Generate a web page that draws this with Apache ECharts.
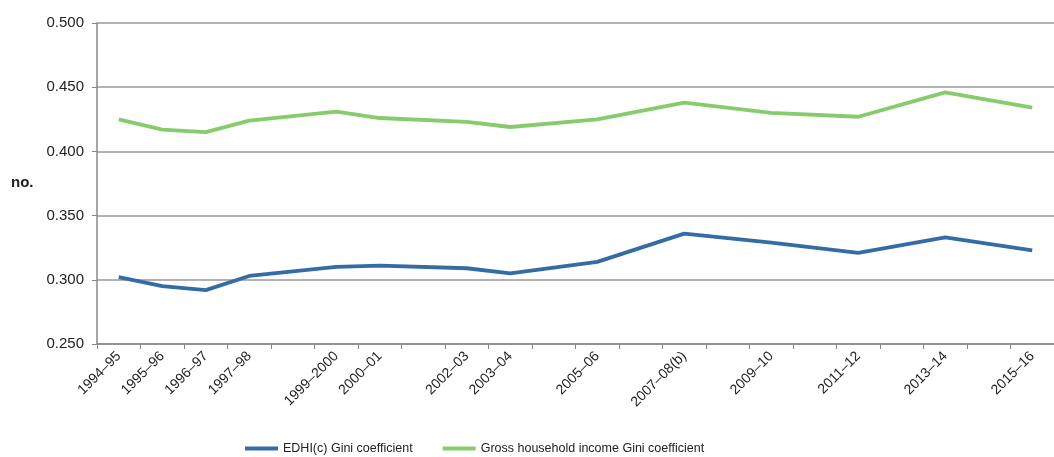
<!DOCTYPE html>
<html>
<head>
<meta charset="utf-8">
<script src="https://cdn.jsdelivr.net/npm/echarts@6/dist/echarts.min.js"></script>
<style>
  html, body { margin: 0; padding: 0; background: #fff; }
  #chart { width: 1054px; height: 457px; }
</style>
</head>
<body>
<div id="chart"></div>
<script>
// one category per financial year, survey years only carry values
const years = [
  '1994–95', '1995–96', '1996–97', '1997–98', '1998–99', '1999–2000',
  '2000–01', '2001–02', '2002–03', '2003–04', '2004–05', '2005–06',
  '2006–07', '2007–08(b)', '2008–09', '2009–10', '2010–11', '2011–12',
  '2012–13', '2013–14', '2014–15', '2015–16'
]
const edhiGini = [
  0.302, 0.295, 0.292, 0.303, null, 0.310,
  0.311, null, 0.309, 0.305, null, 0.314,
  null, 0.336, null, 0.329, null, 0.321,
  null, 0.333, null, 0.323
]
const grossGini = [
  0.425, 0.417, 0.415, 0.424, null, 0.431,
  0.426, null, 0.423, 0.419, null, 0.425,
  null, 0.438, null, 0.430, null, 0.427,
  null, 0.446, null, 0.434
]
const yTicks = { min: 0.25, max: 0.5, interval: 0.05 }

const chart = echarts.init(document.getElementById('chart'))
const font = 'Liberation Sans, Arial, sans-serif'

chart.setOption({
  animation: false,
  textStyle: { fontFamily: font },
  grid: { left: 97, right: -9, top: 23, bottom: 113 },
  legend: {
    bottom: -3,
    left: 240,
    itemWidth: 33,
    itemHeight: 4,
    itemGap: 30,
    icon: 'rect',
    textStyle: { fontSize: 12.5, color: '#222', fontFamily: font },
    data: ['EDHI(c) Gini coefficient', 'Gross household income Gini coefficient'],
  },
  graphic: [{
    type: 'text',
    left: 11,
    top: 175,
    style: { text: 'no.', font: 'bold 15px ' + font, fill: '#222' },
  }],
  xAxis: {
    type: 'category',
    data: years,
    boundaryGap: true,
    axisLine: { lineStyle: { color: '#888', width: 1.5 } },
    axisTick: { show: true, interval: 0, length: 5, lineStyle: { color: '#888' } },
    axisLabel: {
      rotate: 45,
      margin: 10,
      fontSize: 14,
      color: '#222',
      interval: (i) => edhiGini[i] !== null,
    },
  },
  yAxis: {
    type: 'value',
    min: yTicks.min,
    max: yTicks.max,
    interval: yTicks.interval,
    axisLine: { show: true, lineStyle: { color: '#888', width: 1.5 } },
    axisTick: { show: true, length: 5, lineStyle: { color: '#888' } },
    axisLabel: {
      fontSize: 15,
      color: '#222',
      margin: 13,
      formatter: (v) => v.toFixed(3),
    },
    splitLine: { lineStyle: { color: '#9a9a9a', width: 1.5 } },
  },
  series: [
    {
      name: 'EDHI(c) Gini coefficient',
      type: 'line',
      data: edhiGini,
      connectNulls: true,
      showSymbol: false,
      color: '#346ca4',
      lineStyle: { width: 3.8, color: '#346ca4' },
    },
    {
      name: 'Gross household income Gini coefficient',
      type: 'line',
      data: grossGini,
      connectNulls: true,
      showSymbol: false,
      color: '#86cc6c',
      lineStyle: { width: 3.8, color: '#86cc6c' },
    },
  ],
})
</script>
</body>
</html>
